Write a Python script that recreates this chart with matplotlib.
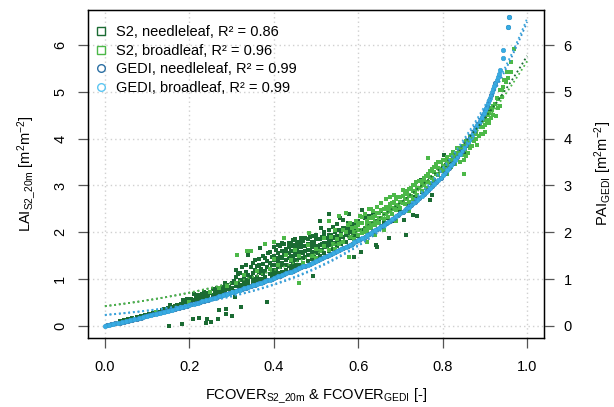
import numpy as np
import matplotlib
matplotlib.use("Agg")
import matplotlib.pyplot as plt
from matplotlib.lines import Line2D

plt.rcParams['font.family'] = ['Liberation Sans', 'DejaVu Sans']
plt.rcParams['mathtext.fontset'] = 'custom'
plt.rcParams['mathtext.rm'] = 'Liberation Sans'
plt.rcParams['mathtext.it'] = 'Liberation Sans'

# ---------------- data ----------------
s2_needle = [
    (0.035,0.10),(0.045,0.12),(0.055,0.14),(0.065,0.17),(0.075,0.19),(0.085,0.21),(0.095,0.24),
    (0.105,0.26),(0.115,0.28),(0.125,0.30),(0.135,0.33),(0.14,0.36),(0.145,0.34),(0.15,0.38),
    (0.155,0.45),(0.16,0.40),(0.165,0.42),(0.17,0.45),(0.175,0.43),(0.18,0.47),(0.185,0.55),
    (0.19,0.49),(0.195,0.58),(0.20,0.52),(0.205,0.50),(0.21,0.56),(0.21,0.68),(0.215,0.53),
    (0.22,0.60),(0.22,0.65),(0.225,0.57),(0.23,0.62),(0.235,0.59),(0.24,0.66),(0.245,0.62),
    (0.25,0.70),(0.255,0.65),(0.26,0.74),(0.26,0.68),(0.265,0.71),(0.27,0.78),(0.275,0.72),
    (0.28,0.82),(0.285,0.75),(0.29,0.88),(0.29,0.79),(0.295,0.84),(0.30,0.92),(0.30,0.80),
    (0.205,0.58),(0.215,0.62),(0.225,0.52),(0.23,0.68),(0.235,0.72),(0.245,0.70),(0.255,0.78),
    (0.265,0.80),(0.275,0.66),(0.28,0.75),(0.285,0.92),(0.295,0.78),
    (0.153,0.00),(0.183,0.04),(0.208,0.15),(0.222,0.16),(0.240,0.07),(0.243,0.14),(0.252,0.09),
    (0.269,0.15),(0.270,0.33),(0.286,0.25),(0.288,0.36),(0.300,0.21),(0.323,0.41),(0.307,0.61),
    (0.384,0.51),
    (0.305,0.95),(0.31,0.85),(0.31,1.05),(0.311,1.20),(0.315,0.90),(0.32,0.98),(0.32,1.12),
    (0.325,0.88),(0.33,1.02),(0.33,0.93),(0.335,1.15),(0.338,1.52),(0.34,0.97),(0.34,1.08),
    (0.345,1.25),(0.35,1.00),(0.35,1.12),(0.35,1.35),(0.355,0.95),(0.355,1.20),(0.36,1.05),
    (0.36,1.28),(0.365,1.15),(0.365,1.42),(0.368,1.66),(0.37,1.00),(0.37,1.22),(0.375,1.10),
    (0.375,1.32),(0.38,1.05),(0.38,1.18),(0.38,1.45),(0.385,1.25),(0.386,1.55),(0.39,1.10),
    (0.39,1.35),(0.395,1.05),(0.395,1.48),(0.395,1.20),(0.40,1.69),
    (0.31,0.75),(0.315,1.10),(0.32,0.80),(0.325,1.25),(0.33,0.85),(0.335,1.30),(0.34,0.90),
    (0.345,1.05),(0.35,0.92),(0.355,1.40),(0.36,0.98),(0.365,1.30),(0.37,1.12),(0.375,1.50),
    (0.38,1.00),(0.385,1.38),(0.39,1.58),(0.395,1.30),
    (0.40,1.10),(0.40,1.30),(0.40,1.50),(0.405,1.20),(0.405,1.62),(0.41,1.12),(0.41,1.38),
    (0.41,1.55),(0.415,1.25),(0.415,1.70),(0.42,1.15),(0.42,1.45),(0.42,1.60),(0.425,1.30),
    (0.425,1.52),(0.425,1.75),(0.43,1.20),(0.43,1.40),(0.43,1.65),(0.435,1.28),(0.435,1.55),
    (0.435,1.78),(0.44,1.22),(0.44,1.48),(0.44,1.70),(0.445,1.35),(0.445,1.60),(0.445,1.84),
    (0.45,1.28),(0.45,1.52),(0.45,1.72),(0.455,1.40),(0.455,1.65),(0.455,1.80),(0.46,1.30),
    (0.46,1.58),(0.46,1.76),(0.464,1.87),(0.465,1.45),(0.465,1.68),(0.47,1.35),(0.47,1.55),
    (0.47,1.82),(0.475,1.48),(0.475,1.70),(0.48,1.38),(0.48,1.62),(0.48,1.86),(0.485,1.52),
    (0.485,1.75),(0.49,1.42),(0.49,1.68),(0.49,1.92),(0.492,1.07),(0.495,1.58),(0.495,1.80),
    (0.50,1.46),(0.50,1.70),(0.50,1.95),
    (0.40,1.20),(0.40,1.40),(0.405,1.05),(0.405,1.45),(0.41,1.28),(0.41,1.72),(0.415,1.48),
    (0.42,1.35),(0.42,1.78),(0.425,1.12),(0.43,1.55),(0.43,1.30),(0.435,1.45),(0.435,1.68),
    (0.44,1.38),(0.44,1.60),(0.44,1.78),(0.445,1.25),(0.445,1.50),(0.45,1.40),(0.45,1.65),
    (0.45,1.85),(0.455,1.55),(0.455,1.30),(0.46,1.45),(0.46,1.68),(0.465,1.58),(0.465,1.80),
    (0.47,1.45),(0.47,1.70),(0.475,1.60),(0.475,1.88),(0.48,1.52),(0.48,1.75),(0.485,1.62),
    (0.485,1.90),(0.49,1.55),(0.49,1.80),(0.495,1.70),(0.495,1.48),(0.50,1.58),(0.50,1.85),
    (0.505,1.55),(0.505,1.85),(0.51,1.50),(0.51,1.72),(0.512,2.09),(0.515,1.62),(0.515,1.90),
    (0.52,1.55),(0.52,1.78),(0.52,2.00),(0.525,1.68),(0.525,1.88),(0.53,1.60),(0.53,1.82),
    (0.53,2.05),(0.535,1.72),(0.535,1.95),(0.54,1.65),(0.54,1.88),(0.54,2.12),(0.545,1.78),
    (0.545,2.00),(0.55,1.70),(0.55,1.92),(0.55,2.18),(0.555,1.85),(0.556,2.30),(0.56,1.75),
    (0.56,2.02),(0.563,2.26),(0.565,1.90),(0.57,1.80),(0.57,2.08),(0.575,1.95),(0.575,2.20),
    (0.578,2.39),(0.58,1.88),(0.58,2.12),(0.585,2.00),(0.59,1.47),(0.59,1.95),(0.59,2.18),
    (0.595,2.05),(0.60,1.92),(0.60,2.25),(0.531,2.39),(0.51,2.25),
    (0.505,1.70),(0.51,1.62),(0.51,1.85),(0.515,1.75),(0.52,1.68),(0.52,1.92),(0.525,1.78),
    (0.53,1.72),(0.53,1.95),(0.535,1.85),(0.54,1.78),(0.545,1.90),(0.55,1.82),(0.555,2.05),
    (0.56,1.90),(0.565,2.10),(0.57,1.95),(0.58,2.02),(0.59,2.08),(0.60,2.05),
    (0.606,1.57),(0.608,2.48),(0.61,2.05),(0.615,2.30),(0.62,2.10),(0.625,2.35),(0.63,2.15),
    (0.635,2.40),(0.64,2.20),(0.641,1.73),(0.645,1.69),(0.65,2.25),(0.655,2.45),(0.66,2.20),
    (0.665,2.55),(0.67,2.30),(0.673,1.87),(0.68,2.40),(0.685,2.25),(0.69,2.55),(0.70,2.45),
    (0.708,2.26),(0.712,1.94),(0.72,2.60),(0.73,2.37),(0.735,2.75),(0.74,2.35),(0.748,3.12),
    (0.75,2.85),(0.76,2.95),(0.771,2.69),(0.775,2.80),(0.78,3.10),(0.79,3.25),(0.80,3.30),
    (0.803,3.65),(0.81,3.40),(0.82,3.50),(0.83,3.55),(0.84,3.75),(0.85,3.70),(0.86,3.90),
    (0.87,4.00),(0.88,4.20),(0.89,4.25),(0.90,4.45),(0.91,4.60),(0.92,4.70),
]

s2_broad = [
    (0.12,0.30),(0.20,0.50),(0.25,0.72),(0.27,0.80),(0.29,0.86),(0.31,0.92),(0.312,1.52),
    (0.33,1.08),(0.336,1.59),(0.346,1.59),(0.36,1.18),(0.38,1.75),(0.39,1.22),(0.40,1.42),
    (0.401,1.80),(0.41,1.30),(0.425,1.87),(0.43,1.52),(0.44,1.40),(0.45,1.62),(0.46,0.91),
    (0.46,1.50),(0.47,1.35),(0.48,1.72),(0.484,1.98),(0.49,1.50),(0.50,1.45),(0.50,1.65),
    (0.51,1.60),(0.52,1.70),(0.52,1.88),(0.53,1.62),(0.531,2.23),(0.535,1.90),(0.54,1.75),
    (0.545,2.05),(0.55,1.85),(0.555,2.35),(0.56,1.95),(0.565,1.80),(0.57,2.00),(0.57,2.42),
    (0.575,2.15),(0.579,1.48),(0.58,1.90),(0.585,2.10),(0.59,2.00),(0.595,2.25),
    (0.545,1.65),(0.555,1.75),(0.565,2.05),(0.58,2.20),(0.59,1.85),(0.595,2.12),
    (0.60,1.95),(0.60,2.15),(0.605,2.05),(0.605,2.35),(0.61,1.98),(0.61,2.20),(0.615,2.10),
    (0.615,2.40),(0.62,2.02),(0.62,2.25),(0.625,2.12),(0.625,2.50),(0.63,2.08),(0.63,2.30),
    (0.635,2.18),(0.635,2.45),(0.64,2.15),(0.64,2.35),(0.645,2.25),(0.645,2.55),(0.65,2.20),
    (0.65,2.42),(0.655,2.30),(0.655,2.62),(0.66,2.28),(0.66,2.50),(0.665,2.38),(0.665,2.70),
    (0.67,2.32),(0.67,2.55),(0.675,2.45),(0.675,2.75),(0.68,2.40),(0.68,2.62),(0.685,2.50),
    (0.685,2.80),(0.69,2.48),(0.69,2.70),(0.695,2.58),(0.70,2.52),(0.70,2.75),(0.705,2.62),
    (0.705,2.90),(0.71,2.60),(0.71,2.82),(0.715,2.70),(0.72,2.65),(0.72,2.92),(0.725,2.78),
    (0.73,2.72),(0.73,3.00),(0.735,2.85),(0.738,3.08),(0.74,2.80),(0.745,2.95),(0.75,2.88),
    (0.75,3.10),(0.755,3.00),(0.76,2.95),(0.76,3.20),(0.765,3.08),(0.766,3.58),(0.77,3.05),
    (0.77,3.30),(0.775,3.15),(0.78,3.12),(0.78,3.40),(0.785,3.25),(0.79,3.22),(0.79,3.50),
    (0.795,3.35),(0.80,3.30),(0.80,3.55),(0.62,1.80),(0.64,1.95),(0.66,2.05),(0.69,2.25),
    (0.63,2.49),(0.72,2.45),
    (0.60,2.05),(0.605,2.20),(0.61,2.32),(0.615,2.00),(0.62,2.15),(0.625,2.30),(0.63,2.20),
    (0.635,2.32),(0.64,2.25),(0.645,2.42),(0.65,2.30),(0.655,2.48),(0.66,2.38),(0.665,2.55),
    (0.67,2.45),(0.675,2.60),(0.68,2.52),(0.685,2.65),(0.69,2.58),(0.695,2.75),(0.70,2.65),
    (0.705,2.78),(0.71,2.70),(0.715,2.88),(0.72,2.80),(0.725,2.95),(0.73,2.88),(0.735,3.02),
    (0.74,2.95),(0.745,3.10),(0.75,3.00),(0.755,3.15),(0.76,3.08),(0.765,3.25),(0.77,3.18),
    (0.775,3.35),(0.78,3.28),(0.785,3.45),(0.79,3.38),(0.795,3.50),(0.80,3.42),
    (0.805,3.35),(0.81,3.45),(0.81,3.25),(0.815,3.55),(0.82,3.40),(0.82,3.65),(0.825,3.50),
    (0.826,3.58),(0.83,3.45),(0.83,3.70),(0.835,3.60),(0.838,3.69),(0.84,3.50),(0.84,3.80),
    (0.845,3.65),(0.85,3.55),(0.85,3.85),(0.851,3.25),(0.854,3.76),(0.855,3.95),(0.86,3.70),
    (0.862,3.90),(0.865,4.05),(0.869,3.97),(0.87,3.85),(0.875,4.15),(0.877,4.11),(0.88,4.00),
    (0.881,3.87),(0.885,4.26),(0.89,4.10),(0.89,4.40),(0.895,4.25),(0.90,4.40),(0.90,4.15),
    (0.901,4.54),(0.905,4.35),(0.909,4.33),(0.91,4.55),(0.915,4.45),(0.917,4.61),(0.92,4.70),
    (0.926,4.48),(0.929,4.86),(0.93,4.65),(0.936,5.04),(0.94,4.90),(0.944,5.11),(0.945,5.25),
    (0.952,5.43),(0.955,5.30),(0.962,5.43),(0.962,5.64),(0.968,5.91),
    (0.805,3.55),(0.81,3.60),(0.815,3.40),(0.82,3.55),(0.825,3.72),(0.83,3.60),(0.835,3.80),
    (0.84,3.68),(0.845,3.85),(0.85,3.75),(0.855,3.62),(0.86,3.85),(0.865,3.80),(0.87,4.05),
    (0.875,3.95),(0.88,4.15),(0.885,4.05),(0.89,4.25),(0.895,4.10),(0.90,4.30),(0.905,4.50),
    (0.91,4.40),(0.915,4.65),(0.92,4.50),(0.925,4.75),(0.93,4.85),(0.935,4.70),(0.94,5.05),
    (0.95,5.20),
]

gedi_needle_fcover = [0.005,0.015,0.025,0.035,0.045,0.055,0.065,0.075,0.085,0.095,0.105,0.115,
    0.125,0.135,0.145,0.155,0.165,0.175,0.185,0.195,0.205,0.215,0.225,0.235,0.245,0.255,0.265,
    0.275,0.285,0.295,0.305,0.315,0.325,0.335,0.345,0.355,0.365,0.375,0.385,0.395,0.405,0.415,
    0.425,0.435,0.445,0.455,0.465,0.475,0.485,0.495,0.505,0.515,0.525,0.535,0.545,0.555,0.565,
    0.575,0.585,0.595,0.605,0.615,0.625,0.635,0.645,0.655,0.665,0.675,0.685,0.695,0.705,0.715,
    0.725,0.735,0.745,0.755,0.765,0.775,0.785,0.795,0.805,0.815,0.825,0.835,0.845,0.855,0.865,
    0.875,0.885,0.895,0.905,0.915,0.925,0.955,0.958]
gedi_needle_pai = [0.010,0.030,0.051,0.071,0.092,0.113,0.134,0.156,0.178,0.200,0.222,0.244,
    0.267,0.290,0.313,0.337,0.361,0.385,0.409,0.434,0.459,0.484,0.510,0.536,0.562,0.589,0.616,
    0.643,0.671,0.699,0.728,0.757,0.786,0.816,0.846,0.877,0.908,0.940,0.972,1.005,1.038,1.072,
    1.107,1.142,1.178,1.214,1.251,1.289,1.327,1.366,1.406,1.447,1.489,1.531,1.575,1.619,1.665,
    1.711,1.759,1.808,1.858,1.909,1.962,2.016,2.071,2.128,2.187,2.248,2.310,2.375,2.442,2.511,
    2.582,2.656,2.733,2.813,2.896,2.983,3.074,3.169,3.270,3.375,3.486,3.604,3.729,3.862,4.005,
    4.159,4.326,4.508,4.708,4.930,5.181,6.38,6.60]

gedi_broad_fcover = [0.00,0.01,0.02,0.03,0.04,0.05,0.06,0.07,0.08,0.09,0.10,0.11,0.12,0.13,
    0.14,0.15,0.16,0.17,0.18,0.19,0.20,0.21,0.22,0.23,0.24,0.25,0.26,0.27,0.28,0.29,0.30,0.31,
    0.32,0.33,0.34,0.35,0.36,0.37,0.38,0.39,0.40,0.41,0.42,0.43,0.44,0.45,0.46,0.47,0.48,0.49,
    0.50,0.51,0.52,0.53,0.54,0.55,0.56,0.57,0.58,0.59,0.60,0.61,0.62,0.63,0.64,0.65,0.66,0.67,
    0.68,0.69,0.70,0.71,0.72,0.73,0.74,0.75,0.76,0.77,0.78,0.79,0.80,0.81,0.82,0.83,0.84,0.85,
    0.86,0.8625,0.8675,0.87,0.8725,0.8775,0.88,0.8825,0.8875,0.89,0.8925,0.8975,0.90,0.9025,
    0.9075,0.91,0.9125,0.9175,0.92,0.9225,0.9275,0.93,0.9325,0.935,0.944,0.944,0.955,0.958]
gedi_broad_pai = [0.000,0.020,0.040,0.061,0.082,0.103,0.124,0.145,0.167,0.189,0.211,0.233,
    0.256,0.279,0.302,0.325,0.349,0.373,0.397,0.421,0.446,0.471,0.497,0.523,0.549,0.575,0.602,
    0.629,0.657,0.685,0.713,0.742,0.771,0.801,0.831,0.862,0.893,0.924,0.956,0.989,1.022,1.055,
    1.089,1.124,1.160,1.196,1.232,1.270,1.308,1.347,1.386,1.427,1.468,1.510,1.553,1.597,1.642,
    1.688,1.735,1.783,1.833,1.883,1.935,1.989,2.043,2.100,2.158,2.217,2.279,2.342,2.408,2.476,
    2.546,2.619,2.694,2.773,2.854,2.939,3.028,3.121,3.219,3.321,3.430,3.544,3.665,3.794,
    3.932,3.968,4.042,4.080,4.119,4.199,4.241,4.283,4.370,4.415,4.461,4.556,4.605,4.656,
    4.761,4.816,4.872,4.990,5.051,5.115,5.248,5.319,5.391,5.467,5.72,5.89,6.38,6.60]

# exponential fit parameters y = a * exp(b * x)
fit_names = ["S2 needleleaf", "S2 broadleaf", "GEDI needleleaf", "GEDI broadleaf"]
fit_a = [0.42, 0.42, 0.23, 0.235]
fit_b = [2.62, 2.60, 3.34, 3.33]

legend_labels = ["S2, needleleaf, R² = 0.86", "S2, broadleaf, R² = 0.96",
                 "GEDI, needleleaf, R² = 0.99", "GEDI, broadleaf, R² = 0.99"]
x_ticks = [0.0, 0.2, 0.4, 0.6, 0.8, 1.0]
y_ticks = [0, 1, 2, 3, 4, 5, 6]

# ---------------- style ----------------
c_needle = '#1b6b33'
c_broad = '#4cb848'
c_gedi_n = '#2b6fa3'
c_gedi_b = '#38ace3'
fit_colors = [c_needle, c_broad, '#2f8fcc', '#3aa6de']

W, H = 614, 407
fig = plt.figure(figsize=(W/100, H/100), dpi=100)
L, R, T, B = 88, 544, 9.5, 338
ax = fig.add_axes([L/W, 1-B/H, (R-L)/W, (B-T)/H])
ax.set_xlim(-0.04, 1.04)
ax.set_ylim(-0.26, 6.76)

ax.set_xticks(x_ticks)
ax.set_xticklabels([f"{v:.1f}" for v in x_ticks])
ax.set_yticks(y_ticks)
ax.set_yticklabels([str(v) for v in y_ticks])
ax.grid(True, color='#d0d0d0', linestyle=(0, (1, 2.2)), linewidth=1.0)
ax.set_axisbelow(True)

fs = 10.5
ax.tick_params(axis='both', direction='out', length=7, width=0.9, color='#555555',
               labelsize=fs)
ax.tick_params(axis='x', pad=9)
ax.tick_params(axis='y', pad=8)
for lbl in ax.get_yticklabels():
    lbl.set_rotation(90)
    lbl.set_va('center')
for sp in ax.spines.values():
    sp.set_linewidth(1.0)

sn = np.array(s2_needle)
sb = np.array(s2_broad)
ax.scatter(sn[:, 0], sn[:, 1], s=7, marker='s', color=c_needle, linewidths=0, zorder=3)
ax.scatter(sb[:, 0], sb[:, 1], s=7, marker='s', color=c_broad, linewidths=0, zorder=3)
ax.scatter(gedi_needle_fcover, gedi_needle_pai, s=10, marker='o', facecolor=c_gedi_b,
           edgecolor=c_gedi_n, linewidths=0.5, zorder=4)
ax.scatter(gedi_broad_fcover, gedi_broad_pai, s=10, marker='o', facecolor=c_gedi_b,
           edgecolor='#34a0d6', linewidths=0.5, zorder=4)

xf = np.linspace(0, 1, 300)
for a, b, c in zip(fit_a, fit_b, fit_colors):
    ax.plot(xf, a*np.exp(b*xf), linestyle=(0, (1, 1.6)), color=c, linewidth=1.3, zorder=5)

ax2 = ax.twinx()
ax2.set_ylim(ax.get_ylim())
ax2.set_yticks(y_ticks)
ax2.set_yticklabels([str(v) for v in y_ticks])
ax2.tick_params(axis='y', direction='out', length=7, width=0.9, color='#555555',
                labelsize=fs, pad=7)

ax.set_xlabel(r"FCOVER$_{\mathregular{S2\_20m}}$ & FCOVER$_{\mathregular{GEDI}}$ [-]",
              fontsize=fs, labelpad=9)
ax.set_ylabel(r"LAI$_{\mathregular{S2\_20m}}$ [m$^{\mathregular{2}}$m$^{\mathregular{-2}}$]",
              fontsize=fs, labelpad=11)
ax2.set_ylabel(r"PAI$_{\mathregular{GEDI}}$ [m$^{\mathregular{2}}$m$^{\mathregular{-2}}$]",
               fontsize=fs, labelpad=15)

handles = [
    Line2D([], [], marker='s', linestyle='none', markerfacecolor='none',
           markeredgecolor=c_needle, markersize=5.5, markeredgewidth=1.0),
    Line2D([], [], marker='s', linestyle='none', markerfacecolor='none',
           markeredgecolor=c_broad, markersize=5.5, markeredgewidth=1.0),
    Line2D([], [], marker='o', linestyle='none', markerfacecolor='none',
           markeredgecolor=c_gedi_n, markersize=5.5, markeredgewidth=1.0),
    Line2D([], [], marker='o', linestyle='none', markerfacecolor='none',
           markeredgecolor='#5cc6f2', markersize=5.5, markeredgewidth=1.0),
]
ax.legend(handles, legend_labels, loc='upper left', frameon=False, fontsize=fs,
          bbox_to_anchor=(0.0, 0.975), borderaxespad=0.3, borderpad=0.2,
          handlelength=0.8, handletextpad=0.6, labelspacing=0.32)

fig.savefig("out.png", dpi=100)
